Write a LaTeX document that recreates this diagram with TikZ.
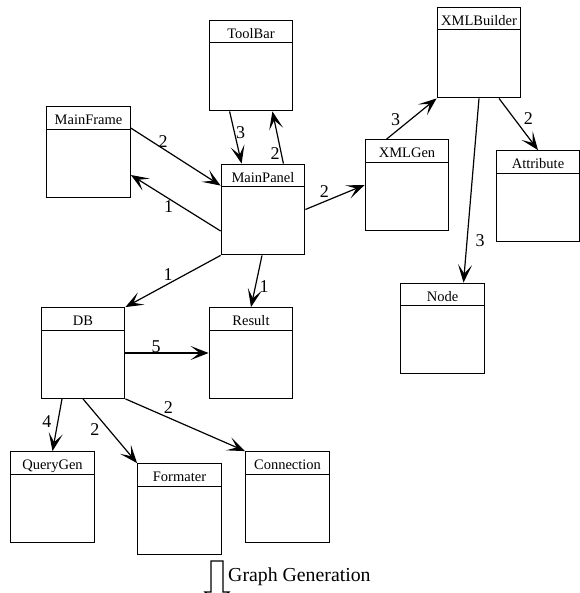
\documentclass[tikz,border=0pt]{standalone}
\usepackage{fontspec}
\setmainfont{Liberation Serif}
\newfontfamily\umlfont{Liberation Serif}
\usetikzlibrary{positioning, arrows.meta}
\tikzset{
    classbox/.style={rectangle, draw=black, line width=1.3pt, minimum width=83.5pt, minimum height=90.5pt, inner sep=0pt,
        path picture={\draw[line width=1.2pt] ([yshift=-22.5pt]path picture bounding box.north west) -- ([yshift=-22.5pt]path picture bounding box.north east);},
        label={[titlelbl]north:#1}},
    titlelbl/.style={anchor=base, yshift=-18.5pt, inner sep=0pt, font=\umlfont\fontsize{14.5}{16}\selectfont},
    arr/.style={-{Stealth[length=18pt, width=14pt, inset=9pt]}, line width=1.2pt},
    numlbl/.style={inner sep=1pt, font=\umlfont\fontsize{18}{20}\selectfont},
    genlbl/.style={inner sep=0pt, font=\umlfont\fontsize{19.8}{22}\selectfont}
}
\begin{document}
\begin{tikzpicture}[x=1pt, y=-1pt]
    \useasboundingbox (0,0) rectangle (579,593);
    \node[classbox=ToolBar] at (251,65.5) (toolbar) {};
    \node[classbox=MainFrame] at (88.5,152) (mainframe) {};
    \node[classbox=MainPanel] at (263,209.5) (mainpanel) {};
    \node[classbox=XMLBuilder] at (479,52.5) (xmlbuilder) {};
    \node[classbox=XMLGen] at (407,185) (xmlgen) {};
    \node[classbox=Attribute] at (538,196) (attribute) {};
    \node[classbox=Node] at (442.5,328.5) (nodecls) {};
    \node[classbox=DB] at (83,353) (db) {};
    \node[classbox=Result] at (251,353) (result) {};
    \node[classbox=QueryGen] at (52.5,497) (querygen) {};
    \node[classbox=Formater] at (179.5,509) (formater) {};
    \node[classbox=Connection] at (287.5,497) (connection) {};
    \draw[arr] ([xshift=21pt]toolbar.south west) -- node[numlbl, pos=0.4, right] {3} ([xshift=21pt]mainpanel.north west);
    \draw[arr] ([xshift=-22pt]mainpanel.north east) -- node[numlbl, pos=0.2, left] {2} ([xshift=-21pt]toolbar.south east);
    \draw[arr] ([yshift=-22pt]mainframe.north east) -- node[numlbl, pos=0.36, above] {2} ([yshift=-22pt]mainpanel.north west);
    \draw[arr] ([yshift=-21.5pt]mainpanel.west) -- node[numlbl, pos=0.58, below] {1} ([yshift=-23pt]mainframe.east);
    \draw[arr] (mainpanel.east) -- node[numlbl, pos=0.32, above=3pt] {2} (xmlgen.west);
    \draw[arr] ([xshift=22pt]xmlgen.north west) -- node[numlbl, pos=0.3, above left] {3} (xmlbuilder.south west);
    \draw[arr] ([xshift=20pt]xmlbuilder.south) -- node[numlbl, pos=0.39, right=8pt] {2} (attribute.north);
    \draw[arr] (xmlbuilder.south) -- node[numlbl, pos=0.77, right=7pt] {3} ([xshift=21pt]nodecls.north);
    \draw[arr] (mainpanel.south west) -- node[numlbl, pos=0.55, above=2pt] {1} (db.north east);
    \draw[arr] ([xshift=-1pt]mainpanel.south) -- node[numlbl, pos=0.6, right=2.5pt] {1} (result.north);
    \draw[arr] (db.east) -- node[numlbl, pos=0.37, above=-1.5pt] {5} (result.west);
    \draw[arr] ([xshift=-21pt]db.south) -- node[numlbl, pos=0.43, left=5pt] {4} (querygen.north);
    \draw[arr] (db.south) -- node[numlbl, pos=0.48, left=8pt] {2} (formater.north west);
    \draw[arr] (db.south east) -- node[numlbl, pos=0.36, above=2.7pt] {2} (connection.north west);
    % graph generation marker
    \coordinate (ggtop) at (217,561);
    \draw[line width=1.2pt] (ggtop) ++(-6,31) |- ++(12,-31) -- ++(0,31) -- ++(6,0) -- ++(-12,12) -- ++(-12,-12) -- cycle;
    \node[genlbl, anchor=base west] at (228,581) (gentxt) {Graph Generation};
\end{tikzpicture}
\end{document}
